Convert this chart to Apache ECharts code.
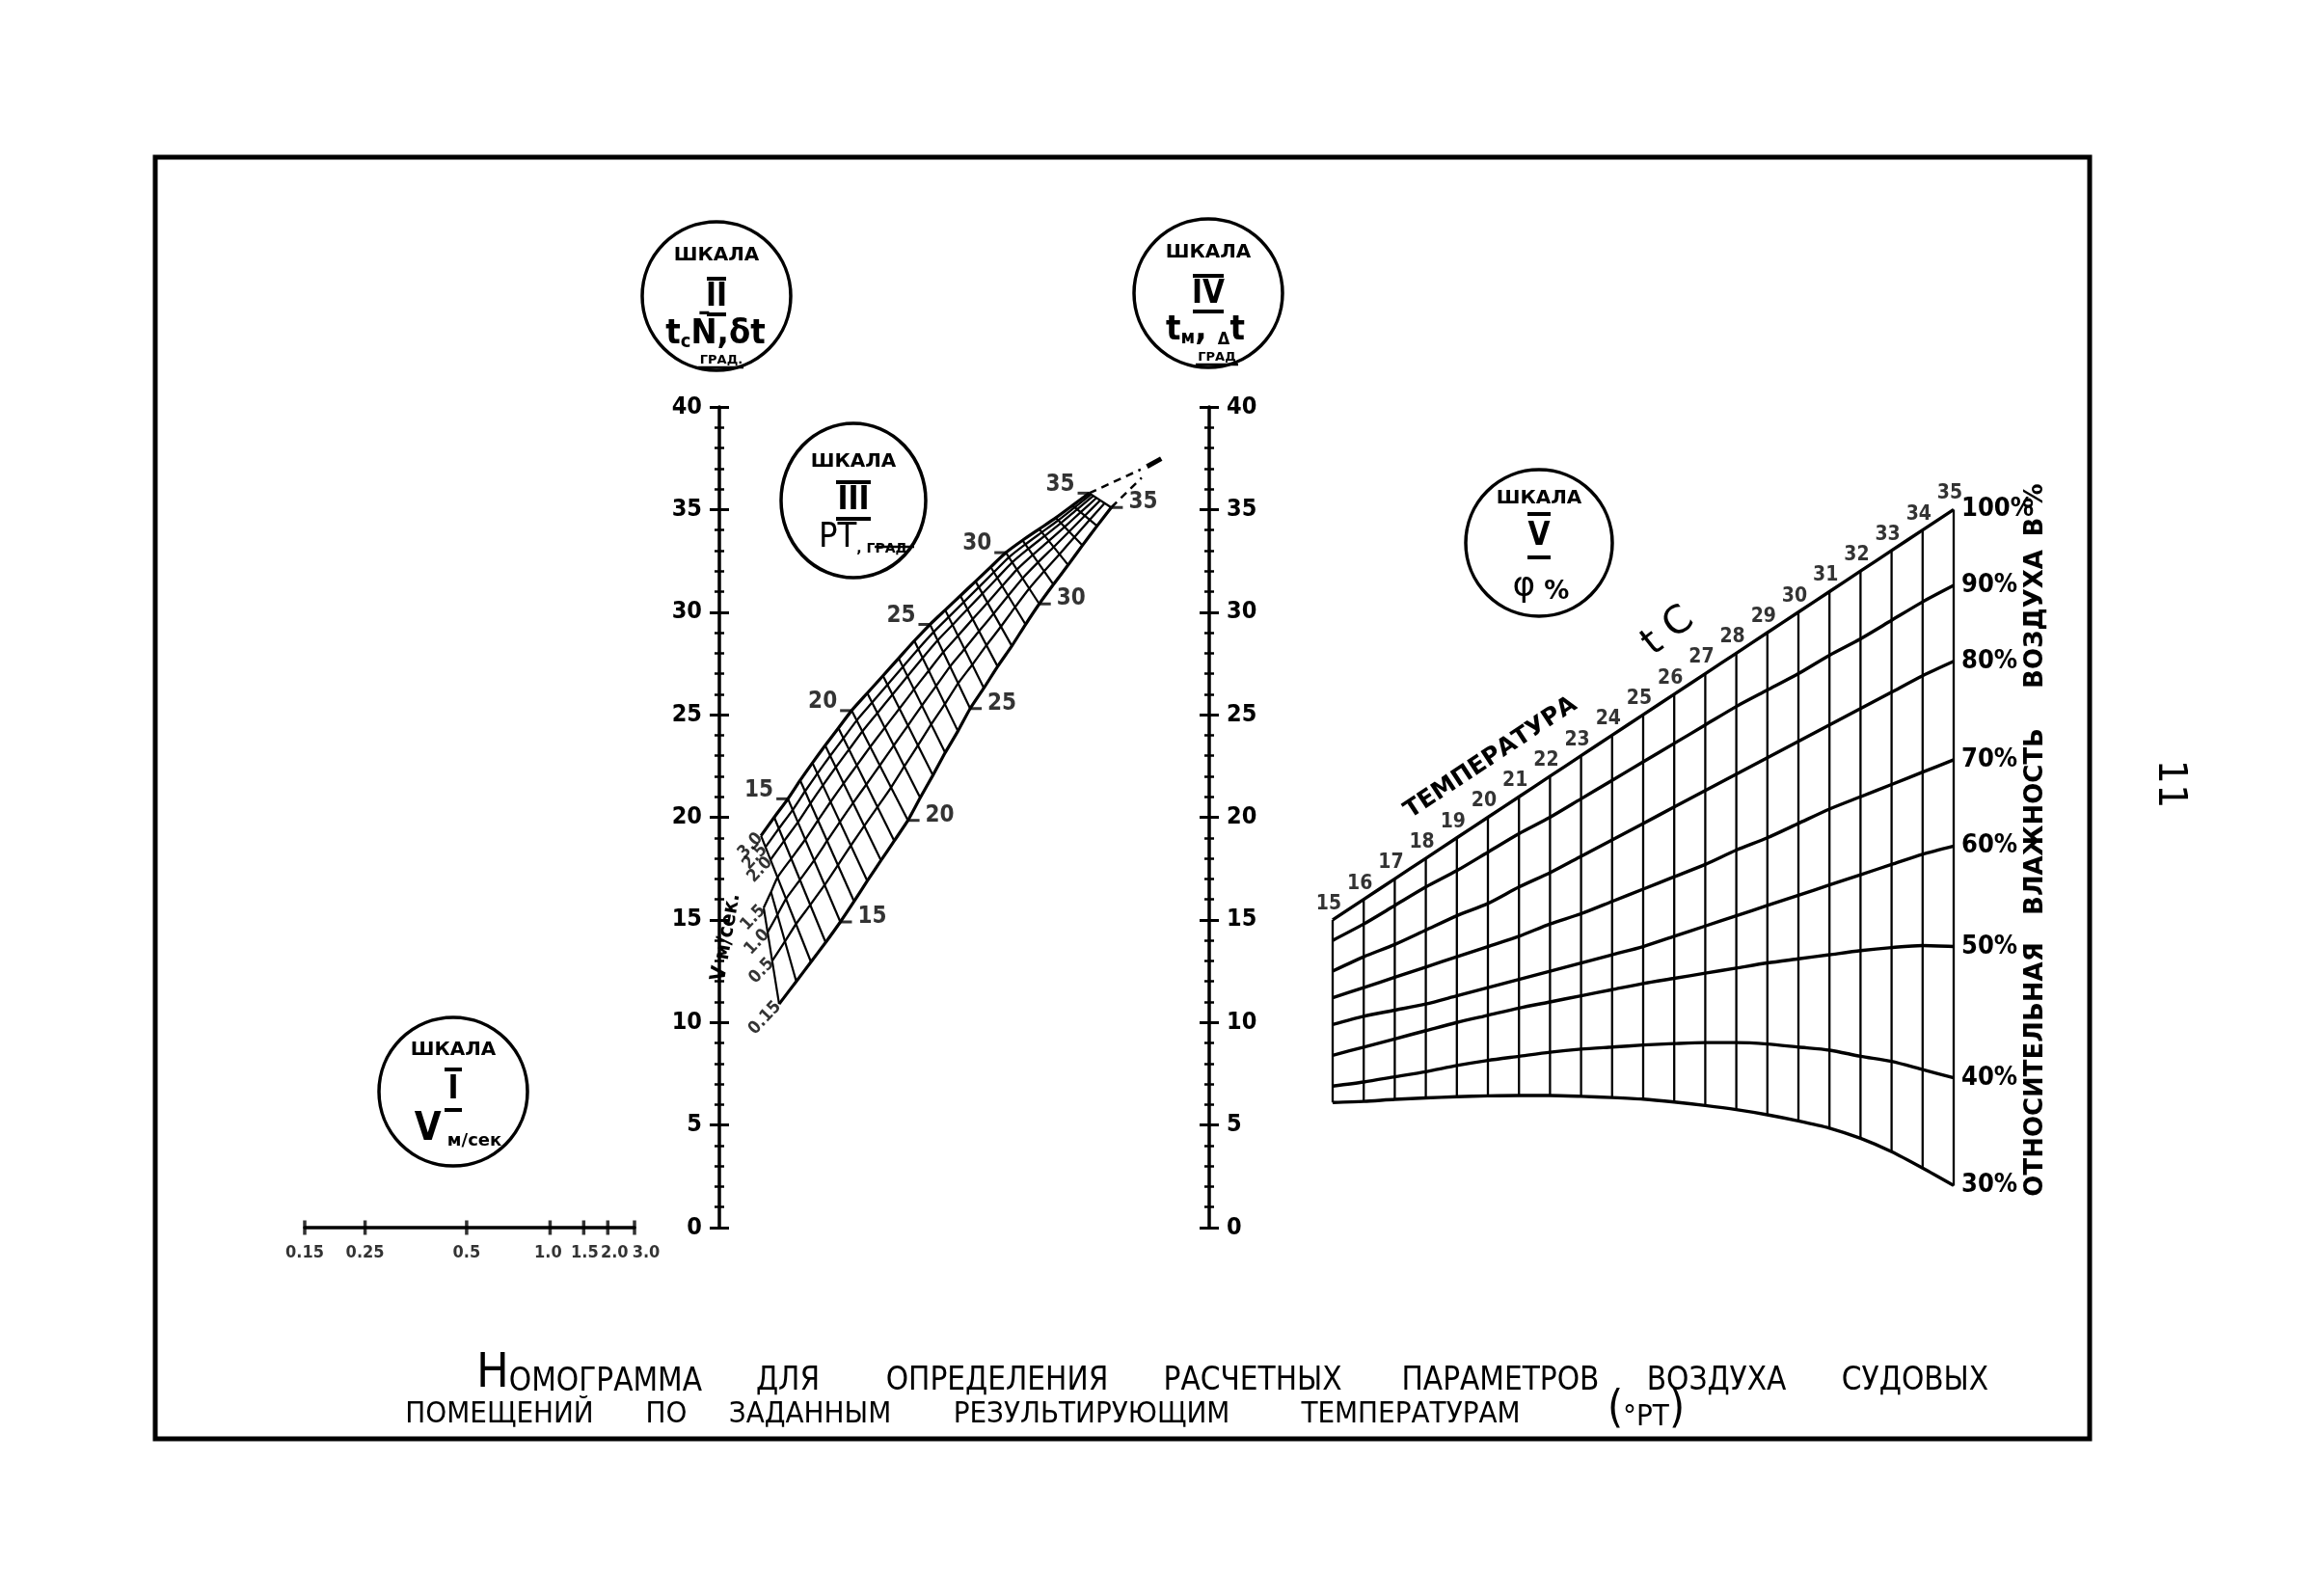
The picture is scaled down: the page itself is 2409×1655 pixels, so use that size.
<!DOCTYPE html>
<html><head><meta charset="utf-8">
<script src="https://cdn.jsdelivr.net/npm/echarts@6/dist/echarts.min.js"></script>
<style>html,body{margin:0;padding:0;background:#fff}#c{width:2409px;height:1655px}</style>
</head><body><div id="c"></div>
<script>
// ---------- DATA ----------
const tempTicks = [0,5,10,15,20,25,30,35,40];
// Scale I (air velocity), functional scale
const scaleIValues = ['0.15','0.25','0.5','1.0','1.5','2.0','3.0'];
const scaleIPos = [0,0.183,0.491,0.744,0.846,0.919,1];
// Scale III mesh (PT vs V). u = fraction between scale II and scale IV, v = temperature
const vLevels = ['3.0','2.5','2.0','1.5','1.0','0.5','0.15'];
const vFraction = [0,0.09,0.19,0.33,0.5,0.7,1];
const vStartPT = [13,13,13,11,11,11,11];
const ptValues = [11,12,13,14,15,16,17,18,19,20,21,22,23,24,25,26,27,28,29,30,31,32,33,34,35];
const ptTopU = [0.075,0.080,0.085,0.112,0.140,0.165,0.190,0.216,0.243,0.270,0.302,0.334,0.366,0.398,0.430,0.461,0.492,0.523,0.554,0.585,0.619,0.653,0.687,0.721,0.755];
const ptTopV = [17.9,18.5,19.1,20.0,20.9,21.8,22.65,23.5,24.35,25.2,26.05,26.9,27.75,28.6,29.4,30.1,30.8,31.5,32.2,32.9,33.5,34.05,34.6,35.2,35.8];
const ptBotU = [0.122,0.157,0.187,0.217,0.247,0.275,0.302,0.330,0.357,0.385,0.410,0.436,0.461,0.487,0.512,0.540,0.568,0.597,0.625,0.653,0.682,0.712,0.741,0.771,0.800];
const ptBotV = [10.9,12.0,12.95,13.9,14.9,15.9,16.9,17.9,18.85,19.85,20.95,22.05,23.15,24.2,25.3,26.3,27.35,28.35,29.4,30.4,31.35,32.3,33.25,34.2,35.1];
const ptLabels = [15,20,25,30,35];
const tipDashTop = [[0.755,35.8],[0.86,36.95]];
const tipDashBot = [[0.8,35.1],[0.862,36.55]];
const tipArrow = [[0.873,37.1],[0.902,37.48]];
// Scale V (relative humidity) : value on temperature scale for each t
const tC = [15,16,17,18,19,20,21,22,23,24,25,26,27,28,29,30,31,32,33,34,35];
const phiNames = ['100%','90%','80%','70%','60%','50%','40%','30%'];
const phi100 = [15,16,17,18,19,20,21,22,23,24,25,26,27,28,29,30,31,32,33,34,35];
const phi90 = [14.0,14.8,15.7,16.6,17.4,18.3,19.2,20.0,20.9,21.8,22.7,23.6,24.5,25.4,26.2,27.0,27.9,28.7,29.6,30.5,31.3];
const phi80 = [12.5,13.2,13.8,14.5,15.2,15.8,16.6,17.3,18.1,18.9,19.7,20.5,21.3,22.1,22.9,23.7,24.5,25.3,26.1,26.9,27.6];
const phi70 = [11.2,11.7,12.2,12.7,13.2,13.7,14.2,14.8,15.3,15.9,16.5,17.1,17.7,18.4,19.0,19.7,20.4,21.0,21.6,22.2,22.8];
const phi60 = [9.9,10.3,10.6,10.9,11.3,11.7,12.1,12.5,12.9,13.3,13.7,14.2,14.7,15.2,15.7,16.2,16.7,17.2,17.7,18.2,18.6];
const phi50 = [8.4,8.8,9.2,9.6,10.0,10.35,10.7,11.0,11.3,11.6,11.9,12.15,12.4,12.65,12.9,13.1,13.3,13.5,13.65,13.75,13.7];
const phi40 = [6.9,7.1,7.35,7.6,7.9,8.15,8.35,8.55,8.7,8.8,8.9,8.97,9.02,9.02,8.95,8.8,8.65,8.35,8.1,7.7,7.3];
const phi30 = [6.1,6.15,6.25,6.32,6.38,6.42,6.44,6.44,6.4,6.34,6.26,6.12,5.95,5.75,5.5,5.2,4.85,4.35,3.7,2.9,2.05];
const phiCurves = [phi100,phi90,phi80,phi70,phi60,phi50,phi40,phi30];

// ---------- STYLE ----------
const F = '"DejaVu Sans",sans-serif';
const FC = '"DejaVu Sans Condensed","DejaVu Sans",sans-serif';
const BLK = '#000';
// horizontal nudges (px) of the crowded scale I labels, as drawn in the original
const scaleILabelNudge = [0,0,0,-2,1,7,12];

function node(i,f){ return [ptTopU[i]+f*(ptBotU[i]-ptTopU[i]), ptTopV[i]+f*(ptBotV[i]-ptTopV[i])]; }

function tempAxis(pos, inside, labels){
  return {gridIndex:0, type:'value', position:pos, min:tempTicks[0], max:tempTicks[tempTicks.length-1],
    interval:tempTicks[1]-tempTicks[0],
    axisLine:{show:!inside, onZero:false, lineStyle:{color:BLK,width:3.5}},
    axisTick:{show:true, inside:inside, length:10, lineStyle:{color:BLK,width:3}},
    minorTick:{show:true, splitNumber:5, length:5, lineStyle:{color:BLK,width:2.5}},
    axisLabel:{show:labels, margin:18, color:BLK, fontFamily:FC, fontWeight:'bold', fontSize:25, showMinLabel:true, showMaxLabel:true},
    splitLine:{show:false}, minorSplitLine:{show:false}};
}

const series = [];
// mesh V curves
vLevels.forEach((lv,k)=>{
  const data = [];
  ptValues.forEach((pt,i)=>{ if (pt>=vStartPT[k]) data.push(node(i,vFraction[k])); });
  const edge = (k===0 || k===vLevels.length-1);
  series.push({type:'line', name:'V '+lv, xAxisIndex:0, yAxisIndex:0, data, symbol:'none', smooth:0.2,
    lineStyle:{color:BLK, width: edge?3.2:2.3}, silent:true, z:3});
});
// mesh PT crossing lines
ptValues.forEach((pt,i)=>{
  const f0 = Math.min(...vFraction.filter((f,k)=>vStartPT[k]<=pt));
  series.push({type:'line', xAxisIndex:0, yAxisIndex:0, data:[node(i,f0), node(i,1)], symbol:'none',
    lineStyle:{color:BLK, width:2.2}, silent:true, z:3});
});
// PT labels on the V=3.0 edge
series.push({type:'scatter', xAxisIndex:0, yAxisIndex:0, silent:true, z:5,
  data: ptLabels.map(pt=>({name:String(pt), value:node(ptValues.indexOf(pt),0)})),
  symbol:'rect', symbolSize:[12,3], symbolOffset:[-6,0], itemStyle:{color:BLK},
  label:{show:true, position:'left', distance:3, offset:[0,-9], formatter:'{b}', color:BLK, fontFamily:FC, fontWeight:'bold', fontSize:24}});
// PT labels on the V=0.15 edge
series.push({type:'scatter', xAxisIndex:0, yAxisIndex:0, silent:true, z:5,
  data: ptLabels.map(pt=>({name:String(pt), value:node(ptValues.indexOf(pt),1)})),
  symbol:'rect', symbolSize:[12,3], symbolOffset:[6,0], itemStyle:{color:BLK},
  label:{show:true, position:'right', distance:6, offset:[0,-5], formatter:'{b}', color:BLK, fontFamily:FC, fontWeight:'bold', fontSize:24}});
// V labels at curve starts
series.push({type:'scatter', xAxisIndex:0, yAxisIndex:0, silent:true, z:5,
  data: vLevels.map((lv,k)=>({name:lv, value:node(ptValues.indexOf(vStartPT[k]), vFraction[k])})),
  symbol:'circle', symbolSize:0.1,
  label:{show:true, position:'left', distance:1, rotate:47, formatter:'{b}', color:BLK, fontFamily:FC, fontWeight:'bold', fontSize:18}});
// tip dashes
[tipDashTop, tipDashBot].forEach(d=>series.push({type:'line', xAxisIndex:0, yAxisIndex:0, data:d, symbol:'none',
  lineStyle:{color:BLK, width:2.5, type:[8,6]}, silent:true, z:3}));
series.push({type:'line', xAxisIndex:0, yAxisIndex:0, data:tipArrow, symbol:'none', lineStyle:{color:BLK, width:5}, silent:true, z:3});

// Scale V humidity curves
phiCurves.forEach((arr,k)=>{
  series.push({type:'line', name:phiNames[k], xAxisIndex:1, yAxisIndex:4, data:tC.map((t,i)=>[t,arr[i]]),
    symbol:'none', smooth:0.25, lineStyle:{color:BLK, width:3.4}, silent:true, z:3,
    endLabel:{show:true, formatter:'{a}', distance:8, color:BLK, fontFamily:FC, fontWeight:'bold', fontSize:27}});
});
// vertical lines of constant t
tC.forEach((t,i)=>{
  series.push({type:'line', xAxisIndex:1, yAxisIndex:4, data:[[t,phi100[i]],[t,phi30[i]]], symbol:'none',
    lineStyle:{color:BLK, width:2.3}, silent:true, z:2});
});
// t labels
series.push({type:'scatter', xAxisIndex:1, yAxisIndex:4, silent:true, z:5,
  data: tC.map((t,i)=>({name:String(t), value:[t,phi100[i]]})), symbol:'circle', symbolSize:0.1,
  label:{show:true, position:'top', distance:6, offset:[-4,0], formatter:'{b}', color:BLK, fontFamily:FC, fontWeight:'bold', fontSize:21}});

// Scale I ticks
series.push({type:'scatter', xAxisIndex:2, yAxisIndex:5, silent:true, z:5, clip:false,
  data: scaleIPos.map((p,i)=>({name:scaleIValues[i], value:[p,0], label:{offset:[scaleILabelNudge[i],0]}})),
  symbol:'rect', symbolSize:[3.5,15], itemStyle:{color:BLK},
  label:{show:true, position:'bottom', distance:10, formatter:'{b}', color:BLK, fontFamily:FC, fontWeight:'bold', fontSize:18}});

// ---------- GRAPHIC (frame, legends in circles, titles) ----------
function T(x,y,text,size,opt){
  opt = opt||{};
  return {type:'text', x:x, y:y, rotation:opt.rot||0, z:20, silent:true,
    style:{x:0, y:0, text:text, fill:BLK, font:(opt.weight||'bold')+' '+size+'px '+(opt.family||F),
      textAlign:opt.align||'center', textVerticalAlign:'middle', verticalAlign:'middle', rich:opt.rich}};
}
function L(x1,y1,x2,y2,w){ return {type:'line', shape:{x1,y1,x2,y2}, style:{stroke:BLK, lineWidth:w||4}, z:20, silent:true}; }
function C(cx,cy,r,sy){ return {type:'circle', x:cx, y:cy, scaleY:sy||1, shape:{cx:0,cy:0,r:r}, style:{fill:'none', stroke:BLK, lineWidth:3.5}, z:20, silent:true}; }
function tok(size,fam,weight,lh,extra){ return Object.assign({fontSize:size, fontFamily:fam, fontWeight:weight, lineHeight:lh, verticalAlign:'bottom', fill:BLK}, extra||{}); }
const DEG = Math.PI/180;

const g = [];
g.push({type:'rect', shape:{x:161,y:163,width:2006,height:1329}, style:{fill:'none', stroke:BLK, lineWidth:5}, z:1, silent:true});
// Circle II
g.push(C(743,307,77));
g.push(T(743,265,'ШКАЛА',20));
g.push(L(733,289,753,289)); g.push(L(733,326,753,326));
g.push(T(743,308,'II',33,{family:FC}));
g.push(T(742,345,'{a|t}{s|c}{a|N\u0304,δt}',36,{rich:{a:tok(36,FC,'bold',40), s:tok(20,FC,'bold',13)}}));
g.push(T(748,374,'ГРАД.',13)); g.push(L(724,381,771,381,2.5));
// Circle IV
g.push(C(1253,304,77));
g.push(T(1253,262,'ШКАЛА',20));
g.push(L(1237,286,1269,286)); g.push(L(1237,323,1269,323));
g.push(T(1253,305,'IV',33,{family:FC}));
g.push(T(1250,341,'{a|t}{s|м}{a|, }{d|Δ}{a|t}',36,{rich:{a:tok(36,FC,'bold',40), s:tok(20,FC,'bold',13), d:tok(18,FC,'bold',22)}}));
g.push(T(1262,371,'ГРАД',13)); g.push(L(1240,378,1284,378,2.5));
// Circle III
g.push(C(885,519,75,80/75));
g.push(T(885,479,'ШКАЛА',20));
g.push(L(867,500,903,500)); g.push(L(867,538,903,538));
g.push(T(885,519,'III',33,{family:FC}));
g.push(T(895,557,'{a|РТ}{s|, ГРАД}',34,{rich:{a:tok(36,FC,'normal',38), s:tok(14,F,'bold',15)}}));
g.push(L(907,567,948,567,2.5));
// Circle V
g.push(C(1596,563,76));
g.push(T(1596,517,'ШКАЛА',20));
g.push(L(1584,533,1608,533)); g.push(L(1584,578,1608,578));
g.push(T(1596,556,'V',33,{family:FC}));
g.push(T(1598,607,'{a|φ}{b| %}',34,{rich:{a:tok(36,F,'normal',40), b:tok(26,F,'bold',32)}}));
// Circle I
g.push(C(470,1132,77));
g.push(T(470,1089,'ШКАЛА',20));
g.push(L(461,1109,479,1109)); g.push(L(461,1151,479,1151));
g.push(T(470,1130,'I',33,{family:FC}));
g.push(T(475,1171,'{a|V}{s| м/сек}',40,{rich:{a:tok(40,FC,'bold',42), s:tok(18,F,'bold',22)}}));
// Scale III axis caption
g.push(T(753,972,'V м/сек.',22,{family:FC, rot:80*DEG}));
// Scale V captions
g.push(T(1546,786,'ТЕМПЕРАТУРА',25,{rot:33.5*DEG}));
g.push(T(1730,655,'t C',40,{weight:'normal', rot:38*DEG}));
g.push(T(2111,1109,'ОТНОСИТЕЛЬНАЯ',26,{rot:90*DEG}));
g.push(T(2111,852,'ВЛАЖНОСТЬ',26,{rot:90*DEG}));
g.push(T(2111,642,'ВОЗДУХА',26,{rot:90*DEG}));
g.push(T(2111,529,'В %',26,{rot:90*DEG}));
// Title
const t1 = [['{b|Н}{n|ОМОГРАММА}',611,-7],['ДЛЯ',817,0],['ОПРЕДЕЛЕНИЯ',1034,0],['РАСЧЕТНЫХ',1299,0],['ПАРАМЕТРОВ',1556,0],['ВОЗДУХА',1780,0],['СУДОВЫХ',1986,0]];
t1.forEach(w=>g.push(T(w[1],1432+w[2],w[0],33,{weight:'normal', family:FC, rich:{b:tok(50,FC,'normal',50), n:tok(33,FC,'normal',38)}})));
const t2 = [['ПОМЕЩЕНИЙ',518,0],['ПО',691,0],['ЗАДАННЫМ',840,0],['РЕЗУЛЬТИРУЮЩИМ',1132,0],['ТЕМПЕРАТУРАМ',1463,0],['{p|(}{n|°РТ}{p|)}',1707,-7]];
t2.forEach(w=>g.push(T(w[1],1467+w[2],w[0],31,{weight:'normal', family:FC, rich:{p:tok(46,FC,'normal',50), n:tok(31,FC,'normal',38)}})));
// page number
g.push(T(2249,813,'11',40,{weight:'normal', rot:-90*DEG}));

const option = {
  animation:false,
  backgroundColor:'#fff',
  textStyle:{fontFamily:F, color:BLK},
  grid:[
    {left:746, top:422, width:508, height:851},
    {left:1382, top:422, width:644, height:851},
    {left:316, top:1240, width:342, height:33}
  ],
  xAxis:[
    {gridIndex:0, type:'value', min:0, max:1, show:false},
    {gridIndex:1, type:'value', min:tC[0], max:tC[tC.length-1], show:false},
    {gridIndex:2, type:'value', min:0, max:1, position:'bottom',
      axisLine:{show:true, onZero:false, lineStyle:{color:BLK,width:3.5}}, axisTick:{show:false}, axisLabel:{show:false}, splitLine:{show:false}}
  ],
  yAxis:[
    tempAxis('left', false, true),
    tempAxis('left', true, false),
    tempAxis('right', false, true),
    tempAxis('right', true, false),
    {gridIndex:1, type:'value', min:tempTicks[0], max:tempTicks[tempTicks.length-1], show:false},
    {gridIndex:2, type:'value', min:0, max:1, show:false}
  ],
  series: series,
  graphic: g
};
const chart = echarts.init(document.getElementById('c'));
chart.setOption(option);
</script></body></html>
